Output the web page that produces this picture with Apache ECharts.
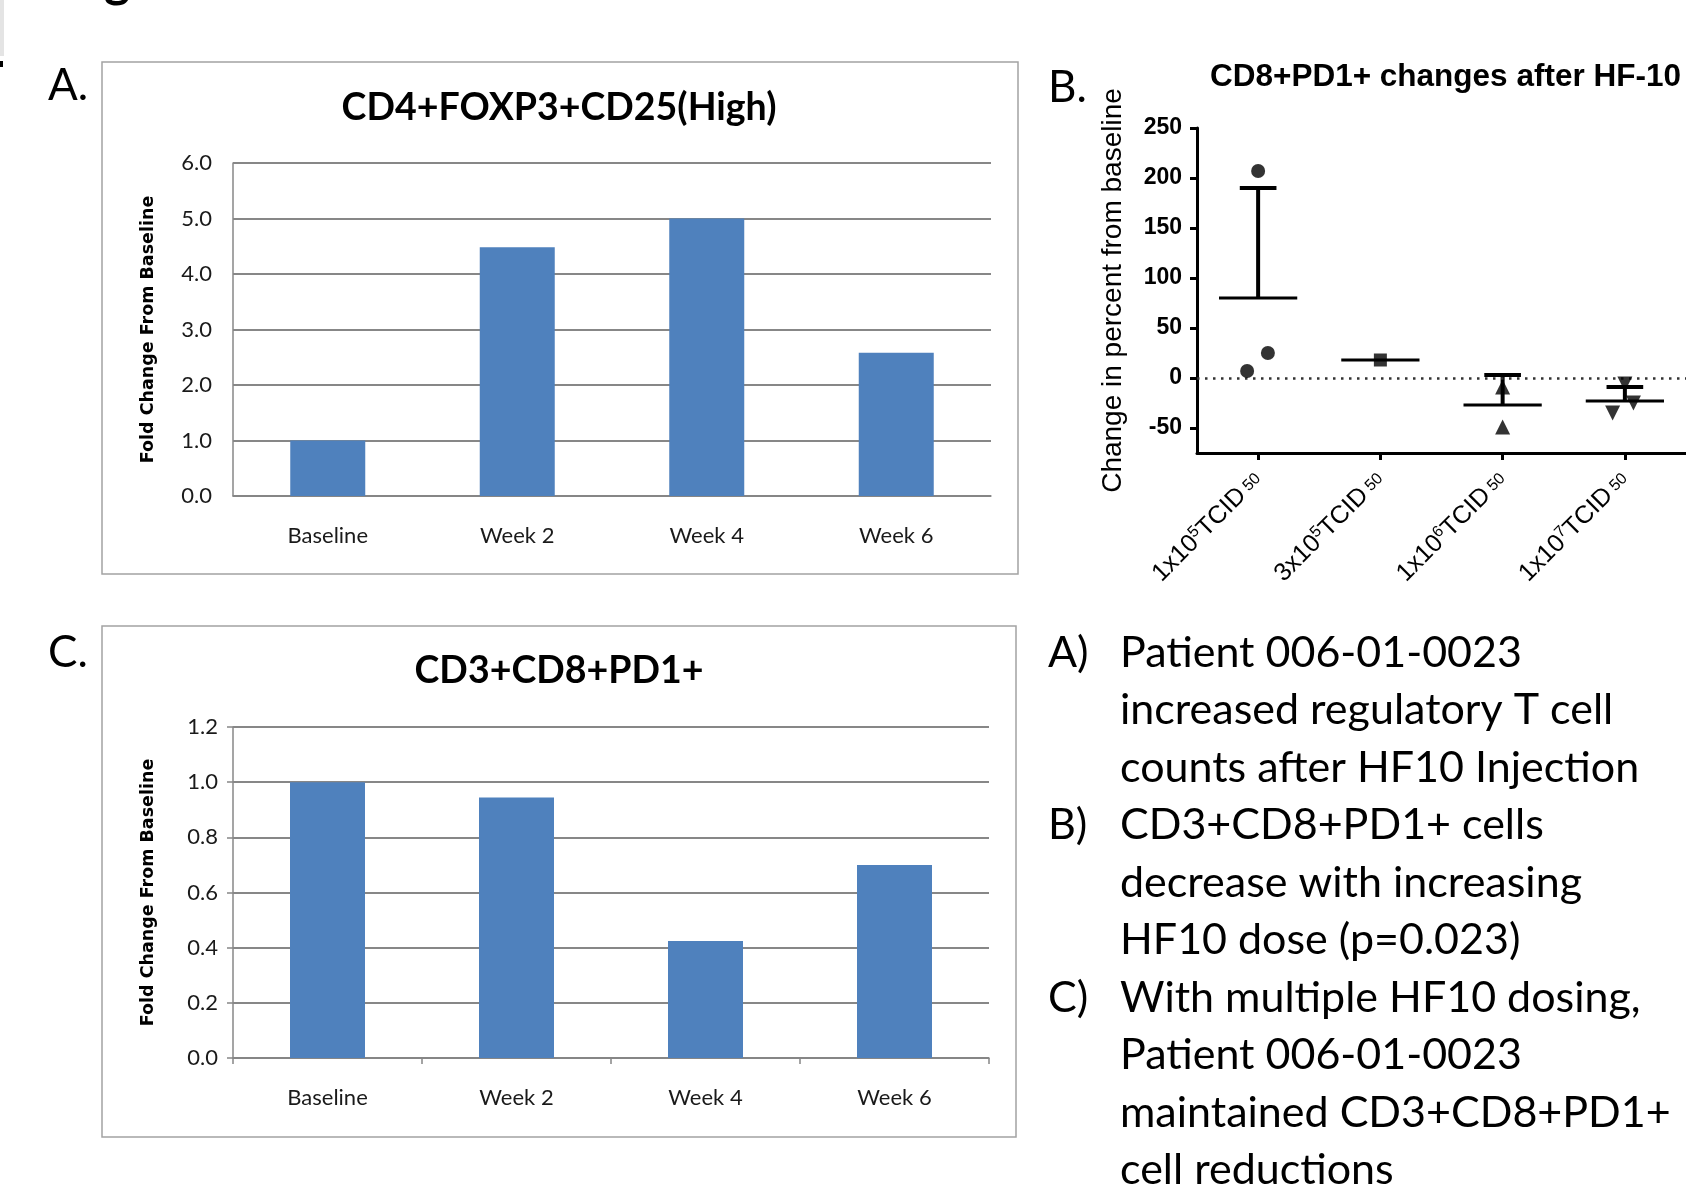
<!DOCTYPE html>
<html><head><meta charset="utf-8">
<script src="https://cdn.jsdelivr.net/npm/echarts@6/dist/echarts.min.js"></script>
<style>html,body{margin:0;padding:0;background:#fff}#c{width:1686px;height:1190px}</style>
</head><body><div id="c"></div>
<script>
// ---------- data ----------
const weeks = ['Baseline', 'Week 2', 'Week 4', 'Week 6'];
const tregFold = [1.0, 4.48, 5.0, 2.58];          // panel A
const pd1Fold = [1.0, 0.944, 0.424, 0.70];         // panel C
const titleA = 'CD4+FOXP3+CD25(High)';
const titleC = 'CD3+CD8+PD1+';
const yNameAC = 'Fold Change From Baseline';

const titleB = 'CD8+PD1+ changes after HF-10';
const yNameB = 'Change in percent from baseline';
const doseCats = ['1x10^5', '3x10^5', '1x10^6', '1x10^7'];
const bPoints = [[207, 7, 25], [18], [-9, -49], [-6, -35, -25]];
const bJitter = [[0, -0.09, 0.08], [0], [0, 0], [0, -0.1, 0.07]];
const bMeans = [80, 18, -27, -23];
const bSdTop = [190, null, 3, -9];
const yTicksB = [-50, 0, 50, 100, 150, 200, 250];

const notesLabels = ['A)', '', '', 'B)', '', '', 'C)', '', '', ''];
const notesLines = [
  'Patient 006-01-0023',
  'increased regulatory T cell',
  'counts after HF10 Injection',
  'CD3+CD8+PD1+ cells',
  'decrease with increasing',
  'HF10 dose (p=0.023)',
  'With multiple HF10 dosing,',
  'Patient 006-01-0023',
  'maintained CD3+CD8+PD1+',
  'cell reductions'
];

// ---------- chart ----------
const chart = echarts.init(document.getElementById('c'), null, {renderer: 'canvas'});
const CAL = 'Lato, "Open Sans", sans-serif';
const ARIAL = '"Liberation Sans", Arial, sans-serif';
const GRID_GRAY = '#878787';
const BAR = '#4f81bd';

function excelX(gridIndex, ticks) {
  return {
    gridIndex, type: 'category', data: weeks,
    axisLine: {show: true, lineStyle: {color: GRID_GRAY, width: 1.5}},
    axisTick: {show: ticks, length: 6, lineStyle: {color: GRID_GRAY, width: 1.5}},
    axisLabel: {fontFamily: CAL, fontSize: 22, color: '#1a1a1a', margin: 29},
    splitLine: {show: false}
  };
}
function excelY(gridIndex, max, interval, ticks) {
  return {
    gridIndex, type: 'value', min: 0, max, interval,
    name: yNameAC, nameLocation: 'middle', nameRotate: 90, nameGap: 76,
    nameMoveOverlap: false,
    nameTextStyle: {fontFamily: '"DejaVu Sans"', fontWeight: 'bold', fontSize: 17.5, color: '#000'},
    axisLine: {show: true, lineStyle: {color: GRID_GRAY, width: 1.5}},
    axisTick: {show: ticks, length: 6, lineStyle: {color: GRID_GRAY, width: 1.5}},
    axisLabel: {fontFamily: CAL, fontSize: 22, color: '#1a1a1a', margin: ticks ? 15 : 21,
      formatter: v => v.toFixed(1)},
    splitLine: {show: true, lineStyle: {color: GRID_GRAY, width: 2}}
  };
}

function renderMeanSd(params, api) {
  const gi = api.value(0), mean = api.value(1), top = api.value(2);
  const c = api.coord([gi, mean]);
  const band = api.size([1, 0])[0];
  const children = [{
    type: 'line',
    shape: {x1: c[0] - 0.32 * band, y1: c[1], x2: c[0] + 0.32 * band, y2: c[1]},
    style: {stroke: '#000', lineWidth: 3}
  }];
  if (!isNaN(top) && top !== null) {
    const t = api.coord([gi, top]);
    children.push({type: 'line', shape: {x1: c[0], y1: c[1], x2: c[0], y2: t[1]},
      style: {stroke: '#000', lineWidth: 4}});
    children.push({type: 'line', shape: {x1: t[0] - 0.15 * band, y1: t[1], x2: t[0] + 0.15 * band, y2: t[1]},
      style: {stroke: '#000', lineWidth: 4}});
  }
  return {type: 'group', children};
}

const symbols = ['circle', 'rect', 'triangle', 'triangle'];
const symbolRot = [0, 0, 0, 180];
const symbolSizes = [14, 13, 15, 15];

const scatterSeries = bPoints.map((vals, g) => ({
  type: 'scatter', xAxisIndex: 2, yAxisIndex: 1,
  symbol: symbols[g], symbolRotate: symbolRot[g], symbolSize: symbolSizes[g],
  itemStyle: {color: '#000'},
  data: vals.map((v, i) => [g + bJitter[g][i], v]),
  z: 5
}));

const option = {
  backgroundColor: '#fff',
  animation: false,
  title: [
    {text: titleA, left: 559, top: 108, textAlign: 'center', textVerticalAlign: 'middle', padding: 0,
      textStyle: {fontFamily: CAL, fontWeight: 'bold', fontSize: 37.5, color: '#000'}},
    {text: titleC, left: 559, top: 671, textAlign: 'center', textVerticalAlign: 'middle', padding: 0,
      textStyle: {fontFamily: CAL, fontWeight: 'bold', fontSize: 37.5, color: '#000'}},
    {text: titleB, left: 1210, top: 77, textAlign: 'left', textVerticalAlign: 'middle', padding: 0,
      textStyle: {fontFamily: ARIAL, fontWeight: 'bold', fontSize: 31.5, color: '#000'}}
  ],
  grid: [
    {left: 233, top: 163, width: 758, height: 333},
    {left: 1197, top: 128, width: 489, height: 325},
    {left: 233, top: 727, width: 756, height: 331}
  ],
  xAxis: [
    excelX(0, false),
    {
      gridIndex: 1, type: 'category', data: doseCats,
      axisLine: {show: true, onZero: false, lineStyle: {color: '#000', width: 3}},
      axisTick: {show: true, alignWithLabel: true, length: 7, lineStyle: {color: '#000', width: 3}},
      axisLabel: {
        rotate: 45, margin: 23, interval: 0,
        formatter: v => { const p = v.split('^'); return '{n|' + p[0] + '}{sup|' + p[1] + '}{n|TCID}{sub| 50}'; },
        rich: {
          n: {fontFamily: ARIAL, fontSize: 25, color: '#000', lineHeight: 28},
          sup: {fontFamily: ARIAL, fontSize: 16, color: '#000', verticalAlign: 'top', lineHeight: 16},
          sub: {fontFamily: ARIAL, fontSize: 16, color: '#000', verticalAlign: 'middle', lineHeight: 16}
        }
      },
      splitLine: {show: false}
    },
    {gridIndex: 1, type: 'value', min: -0.5, max: 3.5, show: false,
      axisLine: {show: false, onZero: false}},
    excelX(2, true)
  ],
  yAxis: [
    excelY(0, 6, 1, false),
    {
      gridIndex: 1, type: 'value', min: -75, max: 250,
      name: yNameB, nameLocation: 'middle', nameRotate: 90, nameGap: 70, nameMoveOverlap: false,
      nameTextStyle: {fontFamily: ARIAL, fontSize: 28, color: '#000'},
      axisLine: {show: true, onZero: false, lineStyle: {color: '#000', width: 3}},
      axisTick: {show: true, length: 7, customValues: yTicksB, lineStyle: {color: '#000', width: 3}},
      axisLabel: {customValues: yTicksB, fontFamily: ARIAL, fontWeight: 'bold', fontSize: 23, color: '#000', margin: 15},
      splitLine: {show: false}
    },
    excelY(2, 1.2, 0.2, true)
  ],
  series: [
    {type: 'bar', xAxisIndex: 0, yAxisIndex: 0, data: tregFold, barWidth: 75,
      itemStyle: {color: BAR}, z: 3},
    {type: 'bar', xAxisIndex: 3, yAxisIndex: 2, data: pd1Fold, barWidth: 75,
      itemStyle: {color: BAR}, z: 3},
    {
      type: 'custom', xAxisIndex: 2, yAxisIndex: 1,
      renderItem: renderMeanSd,
      encode: {x: 0, y: 1},
      data: bMeans.map((m, g) => [g, m, bSdTop[g] === null ? NaN : bSdTop[g]]),
      z: 4,
      markLine: {
        silent: true, symbol: 'none', label: {show: false},
        lineStyle: {color: '#333', type: [2.5, 5.5], width: 2.5},
        data: [{yAxis: 0}]
      }
    },
    ...scatterSeries
  ],
  graphic: [
    {type: 'rect', shape: {x: 102, y: 62, width: 916, height: 512},
      style: {fill: 'none', stroke: '#a3a3a3', lineWidth: 1.5}, z: -1},
    {type: 'rect', shape: {x: 102, y: 626, width: 914, height: 511},
      style: {fill: 'none', stroke: '#a3a3a3', lineWidth: 1.5}, z: -1},
    {type: 'rect', shape: {x: 0, y: 0, width: 4, height: 56}, style: {fill: '#e4e4e4'}},
    {type: 'rect', shape: {x: 0, y: 61, width: 3, height: 6}, style: {fill: '#000'}},
    {type: 'text', x: 104, y: -44, style: {text: 'g', fontFamily: CAL, fontWeight: 'bold', fontSize: 50, fill: '#000', verticalAlign: 'top'}},
    {type: 'text', x: 48, y: 86, style: {text: 'A.', fontFamily: CAL, fontSize: 44, fill: '#000', verticalAlign: 'middle'}},
    {type: 'text', x: 1048, y: 88, style: {text: 'B.', fontFamily: CAL, fontSize: 44, fill: '#000', verticalAlign: 'middle'}},
    {type: 'text', x: 48, y: 653, style: {text: 'C.', fontFamily: CAL, fontSize: 44, fill: '#000', verticalAlign: 'middle'}},
    {type: 'text', x: 1048, y: 624, style: {text: notesLabels.join('\n'), fontFamily: CAL, fontSize: 43, lineHeight: 57.5, fill: '#000', verticalAlign: 'top'}},
    {type: 'text', x: 1120, y: 624, style: {text: notesLines.join('\n'), fontFamily: CAL, fontSize: 43, lineHeight: 57.5, fill: '#000', verticalAlign: 'top'}}
  ]
};
chart.setOption(option);
</script></body></html>
